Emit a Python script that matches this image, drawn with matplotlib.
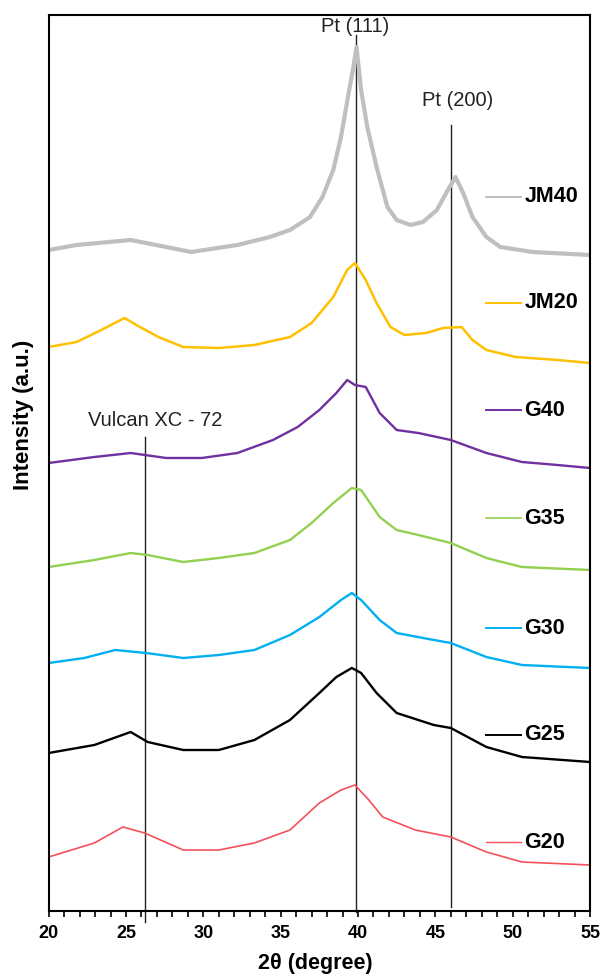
import matplotlib
matplotlib.use("Agg")
import matplotlib.pyplot as plt
from matplotlib.ticker import MultipleLocator

plt.rcParams['font.family'] = ['Liberation Sans', 'DejaVu Sans']

# ---- data (2theta in degrees, intensity in arbitrary stacked units) ----
jm40_x = [20.0, 21.8, 25.3, 27.6, 29.2, 32.2, 34.3, 35.6, 36.9, 37.7, 38.4, 38.9, 39.35,
          39.7, 39.9, 40.2, 40.6, 41.2, 41.9, 42.5, 43.4, 44.2, 45.1, 45.7, 46.3, 46.8,
          47.4, 48.3, 49.2, 51.3, 55.0]
jm40_y = [661, 666, 671, 664, 659, 666, 674, 681, 694, 714, 741, 774, 814,
          844, 864, 821, 784, 744, 704, 691, 686, 689, 701, 718, 734, 718,
          694, 674, 664, 659, 656]

jm20_x = [20.0, 21.8, 23.4, 24.9, 25.9, 27.1, 28.7, 31.0, 33.3, 35.6, 37.0, 38.4, 39.3,
          39.8, 40.5, 41.2, 42.1, 43.0, 44.4, 45.5, 46.7, 47.4, 48.3, 50.2, 52.9, 55.0]
jm20_y = [564, 569, 581, 593, 584, 574, 564, 563, 566, 574, 588, 614, 641,
          648, 631, 608, 584, 576, 578, 583, 584, 571, 561, 554, 551, 548]

g40_x = [20.0, 22.95, 25.3, 27.6, 29.9, 32.2, 34.5, 36.1, 37.5, 38.6, 39.3, 39.8, 40.5,
         41.4, 42.5, 43.9, 46.0, 48.3, 50.6, 52.9, 55.0]
g40_y = [448, 454, 458, 453, 453, 458, 471, 484, 501, 518, 531, 526, 524,
         498, 481, 478, 471, 458, 449, 446, 443]

g35_x = [20.0, 22.95, 25.3, 26.4, 28.7, 31.0, 33.3, 35.6, 37.0, 38.4, 39.6, 40.2,
         41.4, 42.5, 43.9, 46.0, 48.3, 50.6, 55.0]
g35_y = [344, 351, 358, 356, 349, 353, 358, 371, 388, 408, 423, 421,
         394, 381, 376, 368, 353, 344, 341]

g30_x = [20.0, 22.3, 24.3, 26.3, 28.7, 31.0, 33.3, 35.6, 37.5, 38.9, 39.6, 40.2,
         41.4, 42.5, 44.9, 46.0, 48.3, 50.6, 55.0]
g30_y = [248, 253, 261, 258, 253, 256, 261, 276, 294, 311, 318, 311,
         291, 278, 271, 268, 254, 246, 243]

g25_x = [20.0, 22.95, 25.3, 26.4, 28.7, 31.0, 33.3, 35.6, 37.5, 38.6, 39.6, 40.2,
         41.2, 42.5, 44.9, 46.0, 48.3, 50.6, 55.0]
g25_y = [158, 166, 179, 169, 161, 161, 171, 191, 218, 234, 243, 238,
         218, 198, 186, 183, 164, 154, 149]

g20_x = [20.0, 22.95, 24.8, 26.2, 28.7, 31.0, 33.3, 35.6, 37.5, 38.9, 39.8, 40.7,
         41.6, 43.7, 46.0, 48.3, 50.6, 55.0]
g20_y = [54, 68, 84, 78, 61, 61, 68, 81, 108, 121, 126, 111,
         94, 81, 74, 59, 49, 46]

series_names = ["JM40", "JM20", "G40", "G35", "G30", "G25", "G20"]
series_x = [jm40_x, jm20_x, g40_x, g35_x, g30_x, g25_x, g20_x]
series_y = [jm40_y, jm20_y, g40_y, g35_y, g30_y, g25_y, g20_y]
label_levels = [714, 608, 501, 393, 283, 176, 69]

ref_positions = [26.25, 39.9, 46.0]
ref_labels = ["Vulcan XC - 72", "Pt (111)", "Pt (200)"]

x_ticks = [20, 25, 30, 35, 40, 45, 50, 55]

# ---- styles ----
colors = ["#BFBFBF", "#FFC000", "#7030A0", "#92D050", "#00B0F0", "#000000", "#F4505A"]
widths = [3.0, 1.8, 1.7, 1.7, 1.7, 1.7, 1.2]
legend_widths = [1.4, 1.4, 1.4, 1.2, 1.4, 1.4, 1.0]

fig = plt.figure(figsize=(6.03, 9.76), dpi=100)
ax = fig.add_axes([48.7 / 603, 65 / 976, (590 - 48.7) / 603, (911 - 15) / 976])

for xs, ys, c, lw in zip(series_x, series_y, colors, widths):
    ax.plot(xs, ys, color=c, lw=lw, solid_joinstyle='round', solid_capstyle='butt')

# label entries on the right
for name, lev, c, lw in zip(series_names, label_levels, colors, legend_widths):
    ax.plot([48.3, 50.55], [lev, lev], color=c, lw=lw)
    ax.text(50.75, lev, name, ha='left', va='center', fontsize=15.5,
            fontweight='bold', color='black')

# reference lines
line_spans = [(-11, 474), (-1, 876), (4, 786)]
text_pos = [(26.9, 491), (39.8, 884), (46.47, 811)]
for xr, (y0, y1), lab, (tx, ty) in zip(ref_positions, line_spans, ref_labels, text_pos):
    ax.plot([xr, xr], [y0, y1], color='#222222', lw=1.0, clip_on=False, zorder=1)
    ax.text(tx, ty, lab, ha='center', va='center', fontsize=14.5, color='#222222')

ax.set_xlim(20, 55)
ax.set_ylim(0, 896)
ax.set_xticks(x_ticks)
ax.xaxis.set_minor_locator(MultipleLocator(1))
ax.tick_params(axis='x', which='both', direction='out', length=4, width=1.2,
               labelsize=13, pad=6)
for lbl in ax.get_xticklabels():
    lbl.set_fontweight('bold')
ax.set_yticks([])
for s in ax.spines.values():
    s.set_linewidth(1.5)

fig.text(315 / 603, 1 - 963 / 976, "2θ (degree)", ha='center', va='center',
         fontsize=15.5, fontweight='bold')
fig.text(24 / 603, 1 - 415 / 976, "Intensity (a.u.)", ha='center', va='center',
         rotation=90, fontsize=16, fontweight='bold')

fig.savefig("out.png", dpi=100)
